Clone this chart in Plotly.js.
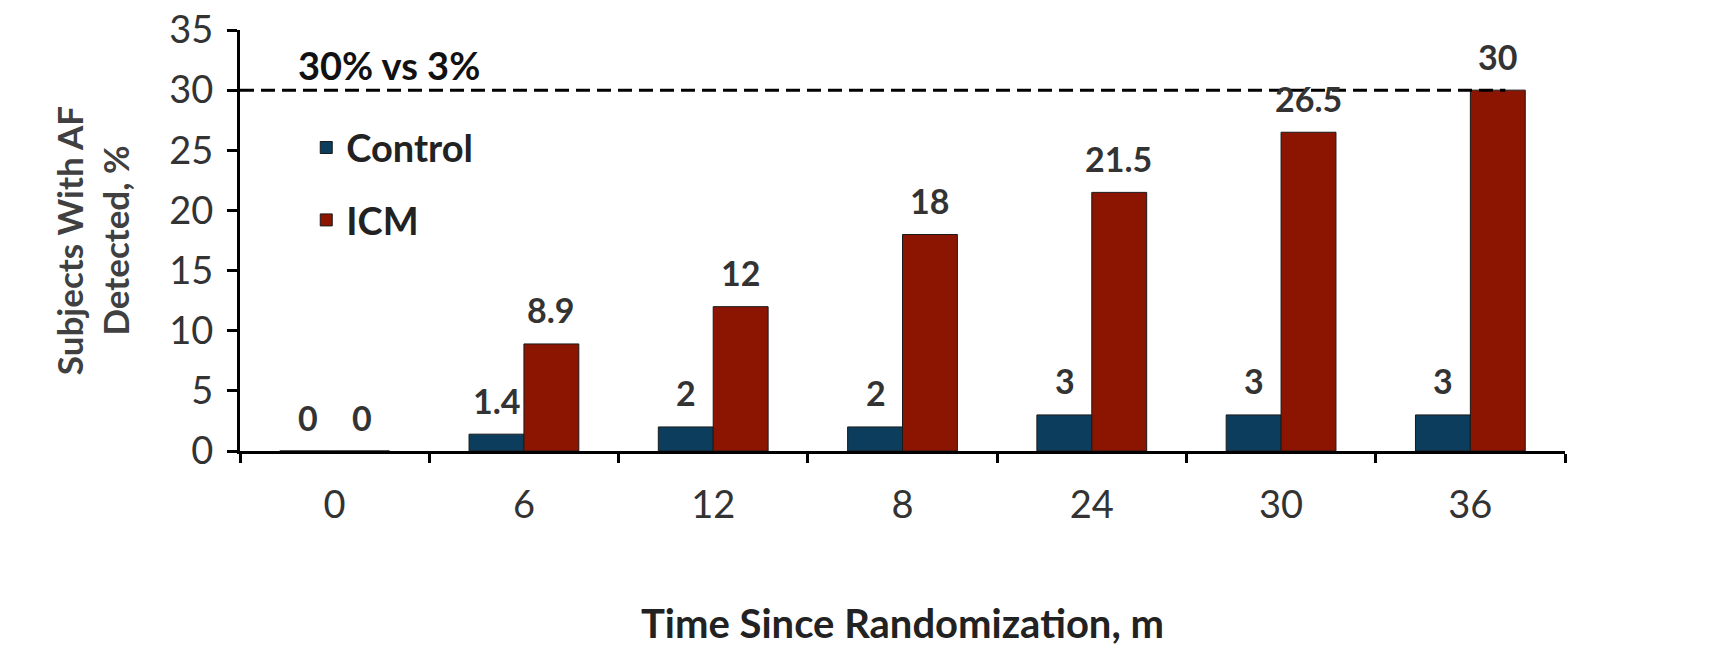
<!DOCTYPE html>
<html>
<head>
<meta charset="utf-8">
<script src="https://cdn.plot.ly/plotly-3.0.1.min.js"></script>
<style>html,body{margin:0;padding:0;background:#fff;}#chart{width:1736px;height:648px;}</style>
</head>
<body>
<div id="chart"></div>
<script>
const categories = ['0', '6', '12', '8', '24', '30', '36'];
const controlValues = [0, 1.4, 2, 2, 3, 3, 3];
const icmValues = [0, 8.9, 12, 18, 21.5, 26.5, 30];
const controlLabels = ['0', '1.4', '2', '2', '3', '3', '3'];
const icmLabels = ['0', '8.9', '12', '18', '21.5', '26.5', '30'];
const yTicks = [0, 5, 10, 15, 20, 25, 30, 35];
const thresholdValue = 30;
const thresholdText = '30% vs 3%';

const FONT = 'Lato, "Open Sans", sans-serif';
const labelFont = {family: FONT, size: 34, color: '#333333', weight: 'bold'};

const traces = [
  {
    type: 'bar', name: 'Control', x: categories, y: controlValues, legendgroup: 'a',
    marker: {color: '#0d3d5c', line: {color: '#1a1a1a', width: 1}},
    hoverinfo: 'skip'
  },
  {
    type: 'bar', name: 'ICM', x: categories, y: icmValues, legendgroup: 'b',
    marker: {color: '#8b1500', line: {color: '#1a1a1a', width: 1}},
    hoverinfo: 'skip'
  }
];

// value labels above each bar (x given as category index), shifted onto their bar within the group
const labelAnnotations = [];
categories.forEach((c, i) => {
  labelAnnotations.push({x: i, y: controlValues[i], text: controlLabels[i], xref: 'x', yref: 'y',
    xshift: -27, yshift: 34, yanchor: 'middle', showarrow: false, font: labelFont});
  labelAnnotations.push({x: i, y: icmValues[i], text: icmLabels[i], xref: 'x', yref: 'y',
    xshift: 27, yshift: 34, yanchor: 'middle', showarrow: false, font: labelFont});
});

const layout = {
  width: 1736, height: 648,
  margin: {l: 240, r: 171, t: 30, b: 197},
  paper_bgcolor: '#ffffff', plot_bgcolor: '#ffffff',
  barmode: 'group', bargap: 0.42, bargroupgap: 0,
  font: {family: FONT, color: '#333333'},
  showlegend: true,
  legend: {
    x: 0.05, y: 0.795, xanchor: 'left', yanchor: 'top', traceorder: 'grouped',
    bgcolor: 'rgba(0,0,0,0)', font: {family: FONT, size: 38, color: '#222222', weight: 'bold'},
    tracegroupgap: 20, itemwidth: 30
  },
  xaxis: {
    type: 'category', categoryorder: 'array', categoryarray: categories,
    range: [-0.5, categories.length - 0.5], autorange: false,
    showline: true, linecolor: '#000', linewidth: 3,
    ticks: 'outside', ticklen: 9, tickwidth: 3, tickcolor: '#000', tickson: 'boundaries',
    tickangle: 0,
    tickfont: {family: FONT, size: 38, color: '#333333'}, ticklabelstandoff: 18,
    showgrid: false, zeroline: false, fixedrange: true,
    title: {text: 'Time Since Randomization, m', font: {family: FONT, size: 40, color: '#222222', weight: 'bold'}, standoff: 86}
  },
  yaxis: {
    range: [0, 35], tickvals: yTicks, ticktext: yTicks.map(String),
    showline: true, linecolor: '#000', linewidth: 3,
    ticks: 'outside', ticklen: 10, tickwidth: 3, tickcolor: '#000',
    tickfont: {family: FONT, size: 38, color: '#333333'}, ticklabelstandoff: 6,
    showgrid: false, zeroline: false, fixedrange: true,
    title: {text: 'Subjects With AF<br>Detected, %', font: {family: FONT, size: 35, color: '#404040', weight: 'bold'}, standoff: 30}
  },
  shapes: [{
    type: 'line', xref: 'paper', yref: 'y', x0: 0, x1: 0.955, y0: thresholdValue, y1: thresholdValue,
    line: {color: '#000', width: 3, dash: '14px,7px'}, layer: 'above'
  }],
  annotations: [{
    text: thresholdText, xref: 'paper', yref: 'y', x: 0.042, y: thresholdValue, xanchor: 'left', yanchor: 'bottom',
    yshift: 0, showarrow: false, font: {family: FONT, size: 38, color: '#111111', weight: 'bold'}
  }].concat(labelAnnotations)
};

Plotly.newPlot('chart', traces, layout, {displayModeBar: false, staticPlot: true});
</script>
</body>
</html>
